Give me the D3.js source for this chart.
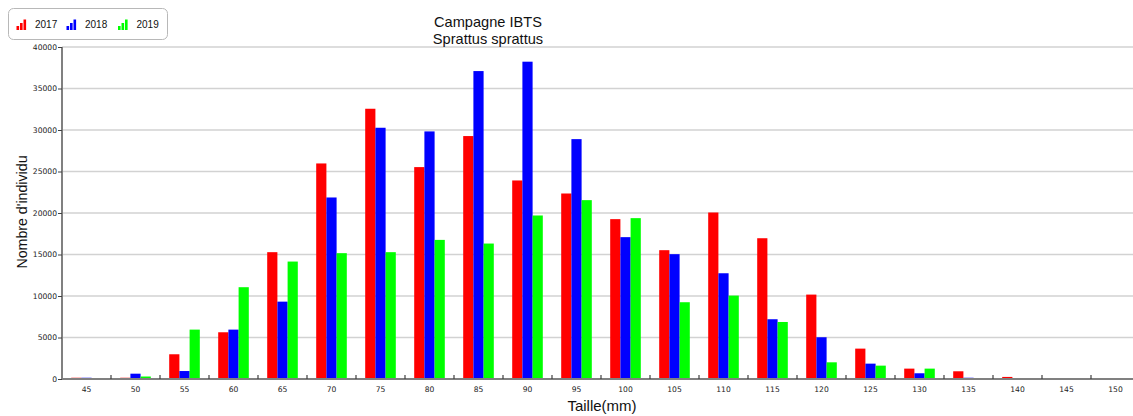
<!DOCTYPE html>
<html>
<head>
<meta charset="utf-8">
<script src="https://cdn.jsdelivr.net/npm/d3@7"></script>
<style>
  html, body { margin: 0; padding: 0; background: #fff; }
  svg { display: block; font-family: "Liberation Sans", Arial, sans-serif; }
</style>
</head>
<body>
<svg id="chart" width="1133" height="416"></svg>
<script>
// Length classes (mm)
const tailles = ["45","50","55","60","65","70","75","80","85","90","95","100","105","110","115","120","125","130","135","140","145","150"];

// Number of individuals per length class, per survey year
const n2017 = [150,150,2980,5630,15280,25970,32560,25530,29270,23920,22350,19260,15520,20060,16960,10170,3660,1250,930,250,0,0];
const n2018 = [150,640,960,5950,9320,21870,30270,29830,37100,38230,28900,17090,15040,12740,7200,5030,1850,690,150,0,0,0];
const n2019 = [0,300,5950,11060,14150,15160,15280,16760,16320,19700,21550,19380,9250,10050,6870,2010,1610,1250,0,0,0,0];

const annees = ["2017","2018","2019"];
const couleurs = ["#ff0000","#0000ff","#00ff00"];
const yTicks = [0,5000,10000,15000,20000,25000,30000,35000,40000];

const series = [n2017, n2018, n2019];
const rows = tailles.map((t, i) => ({ taille: t, values: series.map((s, k) => ({ annee: annees[k], v: s[i], k })) }));

const svg = d3.select("#chart");
const W = 1133;
const plot = { left: 62, top: 47, bottom: 379 };

const x = d3.scaleBand().domain(tailles).range([plot.left, plot.left + 49 * tailles.length]).padding(0);
const xi = d3.scaleBand().domain(annees).range([9.2, 39.8]).padding(0);
const y = d3.scaleLinear().domain([0, 40000]).range([plot.bottom, plot.top]);

// Horizontal grid lines
svg.append("g")
  .selectAll("line")
  .data(yTicks.filter(d => d > 0))
  .join("line")
  .attr("x1", plot.left).attr("x2", W)
  .attr("y1", d => y(d)).attr("y2", d => y(d))
  .attr("stroke", "#d2d2d2").attr("stroke-width", 1.3);

// Bars
const groups = svg.append("g")
  .selectAll("g")
  .data(rows)
  .join("g")
  .attr("transform", d => `translate(${x(d.taille)},0)`);

groups.selectAll("rect")
  .data(d => d.values.filter(v => v.v > 0))
  .join("rect")
  .attr("x", d => xi(d.annee))
  .attr("width", xi.bandwidth())
  .attr("y", d => y(d.v))
  .attr("height", d => y(0) - y(d.v))
  .attr("fill", d => couleurs[d.k]);

// Y axis
const yAxis = d3.axisLeft(y).tickValues(yTicks).tickSize(4).tickFormat(d3.format("d"));
const gy = svg.append("g").attr("transform", `translate(${plot.left},0)`).call(yAxis);
gy.select(".domain").attr("stroke", "#808080").attr("stroke-width", 2).attr("d", `M0,${plot.top}V${plot.bottom}`);
gy.selectAll(".tick line").attr("stroke", "#404040");
gy.selectAll(".tick text")
  .attr("x", -5).attr("dy", "0.32em")
  .attr("fill", "#222")
  .style("font-family", "'DejaVu Sans', sans-serif")
  .style("font-size", "7.6px");

// X axis
const xAxis = d3.axisBottom(x).tickSize(0).tickPadding(8);
const gx = svg.append("g").attr("transform", `translate(0,${plot.bottom})`).call(xAxis);
gx.select(".domain").remove();
gx.append("line")
  .attr("x1", plot.left).attr("x2", W)
  .attr("stroke", "#808080").attr("stroke-width", 2);
gx.selectAll(".tick text")
  .attr("fill", "#222")
  .style("font-family", "'DejaVu Sans', sans-serif")
  .style("font-size", "7.6px");

// Small separator ticks between length classes
gx.append("g")
  .selectAll("line")
  .data(tailles.slice(1))
  .join("line")
  .attr("x1", d => x(d)).attr("x2", d => x(d))
  .attr("y1", -4).attr("y2", 0)
  .attr("stroke", "#404040").attr("stroke-width", 1.2);

// Titles
svg.append("text").attr("x", 488).attr("y", 27).attr("text-anchor", "middle")
  .attr("fill", "#111").style("font-size", "14.6px").text("Campagne IBTS");
svg.append("text").attr("x", 488).attr("y", 43.5).attr("text-anchor", "middle")
  .attr("fill", "#111").style("font-size", "14.6px").text("Sprattus sprattus");

svg.append("text").attr("x", 602).attr("y", 411).attr("text-anchor", "middle")
  .attr("fill", "#111").style("font-size", "15px").text("Taille(mm)");

svg.append("text")
  .attr("transform", "translate(27,212) rotate(-90)")
  .attr("text-anchor", "middle")
  .attr("fill", "#111").style("font-size", "14.2px").text("Nombre d'individu");

// Legend
const leg = svg.append("g");
leg.append("rect")
  .attr("x", 8.5).attr("y", 8.5).attr("width", 159).attr("height", 31).attr("rx", 5)
  .attr("fill", "#fff").attr("stroke", "#b8b8b8");

const legX = [16.5, 66.5, 118];
const items = leg.selectAll("g.item")
  .data(annees)
  .join("g")
  .attr("class", "item")
  .attr("transform", (d, i) => `translate(${legX[i]},0)`);

items.each(function(d, i) {
  const g = d3.select(this);
  [4, 7, 10.5].forEach((h, j) => {
    g.append("rect")
      .attr("x", j * 3.5).attr("y", 30 - h)
      .attr("width", 2.6).attr("height", h)
      .attr("fill", couleurs[i]);
  });
  g.append("text")
    .attr("x", 18.5).attr("y", 28)
    .attr("fill", "#111")
    .style("font-size", "10px")
    .text(d);
});
</script>
</body>
</html>
